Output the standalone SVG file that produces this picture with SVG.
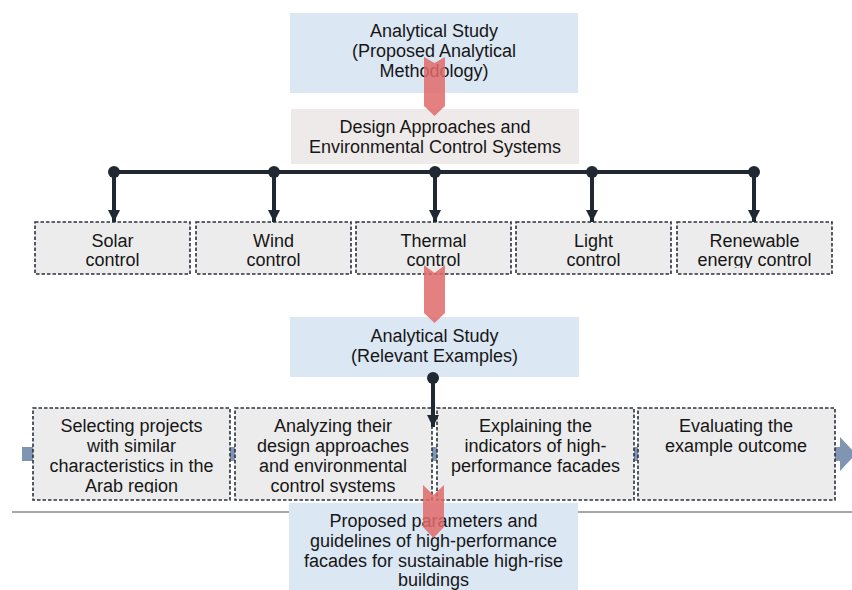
<svg xmlns="http://www.w3.org/2000/svg" width="852" height="590" viewBox="0 0 852 590">
<defs>
<style>
text{font-family:"Liberation Sans",Arial,sans-serif;font-size:18px;fill:#161616;text-anchor:middle}
.blue{fill:#dce7f4}
.pink{fill:#eeeaea}
.dash{fill:#ececec;stroke:#2c323b;stroke-width:1.6;stroke-dasharray:3.5 2}
.conn{stroke:#1f2833;stroke-width:4;fill:none}
.dot{fill:#1f2833}
.red{fill:#e06a6a;opacity:0.85}
</style>
<marker id="ah" markerUnits="userSpaceOnUse" markerWidth="14" markerHeight="14" refX="12" refY="7" orient="auto">
<path d="M0,1 L12,7 L0,13 Z" fill="#1f2833"/>
</marker>
<clipPath id="clipTop" clipPathUnits="userSpaceOnUse"><rect x="0" y="0" width="852" height="268"/></clipPath>
<clipPath id="clipBot" clipPathUnits="userSpaceOnUse"><rect x="0" y="0" width="852" height="493"/></clipPath>
</defs>
<rect width="852" height="590" fill="#ffffff"/>

<line x1="12" y1="512" x2="852" y2="512" stroke="#8a8a8a" stroke-width="1.5"/>
<polygon points="22,447 840,447 840,437 856,454 840,471 840,461 22,461" fill="#8094b4"/>

<g id="n-analytical-method">
<rect class="blue" x="290" y="13" width="288" height="80"/>
<text x="434" y="37">Analytical Study</text>
<text x="434" y="57">(Proposed Analytical</text>
<text x="434" y="77">Methodology)</text>
</g>
<g id="n-design">
<rect class="pink" x="291" y="109" width="288" height="55"/>
<text x="435" y="133">Design Approaches and</text>
<text x="435" y="153">Environmental Control Systems</text>
</g>
<g id="n-solar">
<rect class="dash" x="35" y="222" width="155" height="52"/>
<g clip-path="url(#clipTop)"><text x="112.5" y="247">Solar</text><text x="112.5" y="266">control</text></g>
</g>
<g id="n-wind">
<rect class="dash" x="196" y="222" width="155" height="52"/>
<g clip-path="url(#clipTop)"><text x="273.5" y="247">Wind</text><text x="273.5" y="266">control</text></g>
</g>
<g id="n-thermal">
<rect class="dash" x="356" y="222" width="155" height="52"/>
<g clip-path="url(#clipTop)"><text x="433.5" y="247">Thermal</text><text x="433.5" y="266">control</text></g>
</g>
<g id="n-light">
<rect class="dash" x="516" y="222" width="155" height="52"/>
<g clip-path="url(#clipTop)"><text x="593.5" y="247">Light</text><text x="593.5" y="266">control</text></g>
</g>
<g id="n-renewable">
<rect class="dash" x="677" y="222" width="155" height="52"/>
<g clip-path="url(#clipTop)"><text x="754.5" y="247">Renewable</text><text x="754.5" y="266">energy control</text></g>
</g>
<g id="n-analytical-examples">
<rect class="blue" x="290" y="317" width="289" height="60"/>
<text x="434.5" y="342">Analytical Study</text>
<text x="434.5" y="362">(Relevant Examples)</text>
</g>
<g id="n-selecting">
<rect class="dash" x="33" y="408" width="197" height="92"/>
<g clip-path="url(#clipBot)">
<text x="131.5" y="432">Selecting projects</text>
<text x="131.5" y="452">with similar</text>
<text x="131.5" y="472">characteristics in the</text>
<text x="131.5" y="492">Arab region</text>
</g>
</g>
<g id="n-analyzing">
<rect class="dash" x="235" y="408" width="197" height="92"/>
<g clip-path="url(#clipBot)">
<text x="333" y="432">Analyzing their</text>
<text x="333" y="452">design approaches</text>
<text x="333" y="472">and environmental</text>
<text x="333" y="492">control systems</text>
</g>
</g>
<g id="n-explaining">
<rect class="dash" x="437" y="408" width="197" height="92"/>
<text x="535.5" y="432">Explaining the</text>
<text x="535.5" y="452">indicators of high-</text>
<text x="535.5" y="472">performance facades</text>
</g>
<g id="n-evaluating">
<rect class="dash" x="638" y="408" width="197" height="92"/>
<text x="736" y="432">Evaluating the</text>
<text x="736" y="452">example outcome</text>
</g>
<g id="n-proposed">
<rect class="blue" x="289" y="503" width="289" height="90"/>
<text x="433.5" y="527">Proposed parameters and</text>
<text x="433.5" y="547">guidelines of high-performance</text>
<text x="433.5" y="567">facades for sustainable high-rise</text>
<text x="433.5" y="586">buildings</text>
</g>

<g id="connectors">
<line class="conn" x1="113" y1="172" x2="755" y2="172"/>
<line class="conn" x1="114" y1="172" x2="114" y2="222" marker-end="url(#ah)"/>
<line class="conn" x1="274" y1="172" x2="274" y2="222" marker-end="url(#ah)"/>
<line class="conn" x1="435" y1="172" x2="435" y2="222" marker-end="url(#ah)"/>
<line class="conn" x1="592" y1="172" x2="592" y2="222" marker-end="url(#ah)"/>
<line class="conn" x1="754" y1="172" x2="754" y2="222" marker-end="url(#ah)"/>
<circle class="dot" cx="114" cy="172" r="6"/>
<circle class="dot" cx="274" cy="172" r="6"/>
<circle class="dot" cx="435" cy="172" r="6"/>
<circle class="dot" cx="592" cy="172" r="6"/>
<circle class="dot" cx="754" cy="172" r="6"/>
<line class="conn" x1="433" y1="378" x2="433" y2="427" marker-end="url(#ah)"/>
<circle class="dot" cx="433" cy="378" r="6"/>
<path class="red" d="M424,57 L434.5,63 L445,57 L445,106 L434.5,116 L424,106 Z"/>
<path class="red" d="M424,265 L434.5,273 L445,265 L445,313 L434.5,323 L424,313 Z"/>
<path class="red" d="M423,485 L433.5,495 L444,485 L444,527 L433.5,538 L423,527 Z"/>
</g>
</svg>
